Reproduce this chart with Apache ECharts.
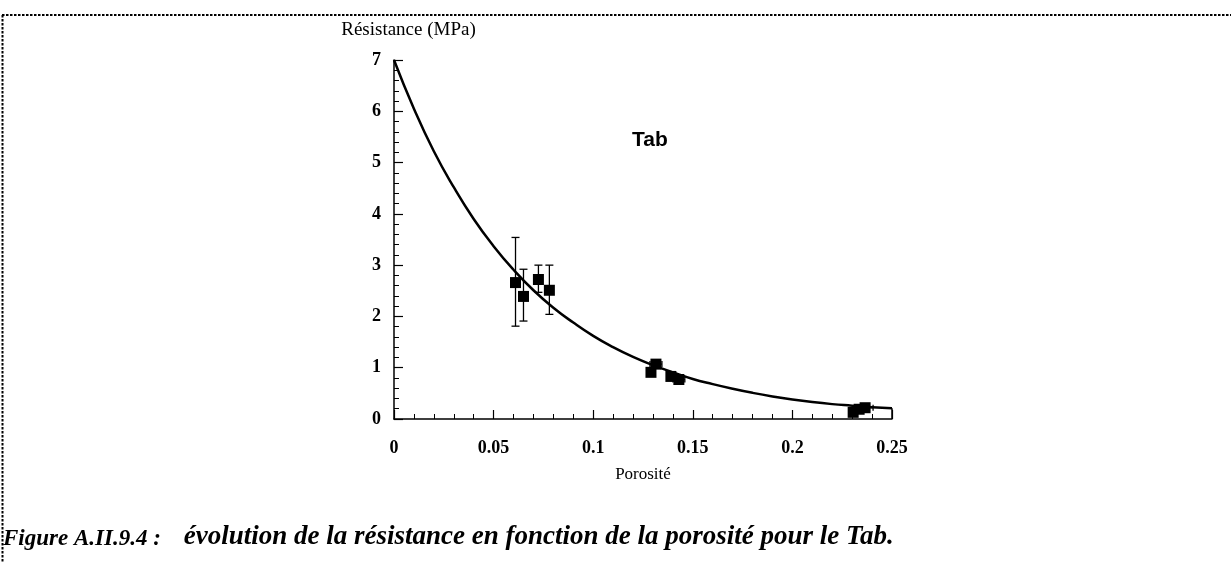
<!DOCTYPE html>
<html>
<head>
<meta charset="utf-8">
<script src="https://cdn.jsdelivr.net/npm/echarts@6/dist/echarts.min.js"></script>
<style>
  html, body { margin: 0; padding: 0; background: #ffffff; }
  #chart { width: 1231px; height: 563px; }
</style>
</head>
<body>
<div id="chart"></div>
<script>
// Measured specimens: porosity vs. strength (MPa)
const porosity = [0.061, 0.065, 0.0725, 0.078, 0.129, 0.1315, 0.139, 0.143, 0.2305, 0.2335, 0.2365];
const strength = [2.66, 2.39, 2.72, 2.51, 0.91, 1.07, 0.83, 0.77, 0.13, 0.19, 0.22];
// Vertical error range of each specimen (low / high)
const strengthLow = [1.81, 1.91, 2.47, 2.04, 0.91, 1.07, 0.83, 0.77, 0.13, 0.19, 0.22];
const strengthHigh = [3.54, 2.92, 3.00, 3.00, 0.91, 1.07, 0.83, 0.77, 0.13, 0.19, 0.22];
// Horizontal half-width of the porosity error
const porosityErr = [0, 0.002, 0, 0, 0, 0.003, 0, 0.003, 0.002, 0.003, 0.004];

// Fitted trend curve
const curveX = [0, 0.01, 0.02, 0.03, 0.04, 0.05, 0.06, 0.07, 0.08, 0.09, 0.10, 0.11, 0.12, 0.13,
                0.14, 0.15, 0.16, 0.17, 0.18, 0.19, 0.20, 0.21, 0.22, 0.23, 0.24, 0.25];
const curveY = [7.00, 6.05, 5.22, 4.52, 3.90, 3.37, 2.91, 2.51, 2.17, 1.88, 1.62, 1.40, 1.21, 1.05,
                0.91, 0.78, 0.68, 0.59, 0.51, 0.44, 0.38, 0.33, 0.29, 0.26, 0.23, 0.21];

// Axis settings
const xMin = 0, xMax = 0.25, xStep = 0.05;
const yMin = 0, yMax = 7, yStep = 1;

// Texts
const captionHead = 'Figure A.II.9.4 :';
const captionBody = 'évolution de la résistance en fonction de la porosité pour le Tab.';

const chart = echarts.init(document.getElementById('chart'), null, { renderer: 'canvas' });

const serif = '"Liberation Serif", "DejaVu Serif", serif';
const sans = '"Liberation Sans", Arial, sans-serif';

const pointData = porosity.map((x, i) => [x, strength[i]]);
const errData = porosity.map((x, i) => [x, strength[i], strengthLow[i], strengthHigh[i], porosityErr[i]]);
const curveData = curveX.map((x, i) => [x, curveY[i]]);

function renderError(params, api) {
  const x = api.value(0), y = api.value(1);
  const lo = api.value(2), hi = api.value(3), dx = api.value(4);
  const children = [];
  const style = { stroke: '#000', lineWidth: 1.3 };
  if (hi > lo) {
    const pLo = api.coord([x, lo]);
    const pHi = api.coord([x, hi]);
    const cap = 4;
    children.push({ type: 'line', shape: { x1: pLo[0], y1: pLo[1], x2: pHi[0], y2: pHi[1] }, style });
    children.push({ type: 'line', shape: { x1: pLo[0] - cap, y1: pLo[1], x2: pLo[0] + cap, y2: pLo[1] }, style });
    children.push({ type: 'line', shape: { x1: pHi[0] - cap, y1: pHi[1], x2: pHi[0] + cap, y2: pHi[1] }, style });
  }
  if (dx > 0) {
    const pL = api.coord([x - dx, y]);
    const pR = api.coord([x + dx, y]);
    const cap = 3;
    children.push({ type: 'line', shape: { x1: pL[0], y1: pL[1], x2: pR[0], y2: pR[1] }, style });
    children.push({ type: 'line', shape: { x1: pL[0], y1: pL[1] - cap, x2: pL[0], y2: pL[1] + cap }, style });
    children.push({ type: 'line', shape: { x1: pR[0], y1: pR[1] - cap, x2: pR[0], y2: pR[1] + cap }, style });
  }
  return { type: 'group', children };
}

const option = {
  backgroundColor: '#ffffff',
  animation: false,
  grid: { left: 394, top: 60, width: 498, height: 359, containLabel: false },
  xAxis: {
    type: 'value',
    min: xMin, max: xMax, interval: xStep,
    name: 'Porosité',
    nameLocation: 'middle',
    nameGap: 47,
    nameTextStyle: { fontFamily: serif, fontSize: 17, color: '#000' },
    axisLine: { show: true, onZero: false, lineStyle: { color: '#000', width: 1.5 } },
    axisTick: { show: true, inside: true, length: 9, lineStyle: { color: '#000', width: 1.2 } },
    minorTick: { show: true, splitNumber: 5, length: 5, lineStyle: { color: '#000', width: 1 } },
    splitLine: { show: false },
    axisLabel: { margin: 20, fontFamily: serif, fontSize: 18, fontWeight: 'bold', color: '#000' }
  },
  yAxis: {
    type: 'value',
    min: yMin, max: yMax, interval: yStep,
    name: 'Résistance (MPa)',
    nameLocation: 'end',
    nameGap: 20,
    nameTextStyle: { fontFamily: serif, fontSize: 19, color: '#000', align: 'center', padding: [0, 0, 0, 29] },
    axisLine: { show: true, onZero: false, lineStyle: { color: '#000', width: 1.5 } },
    axisTick: { show: true, inside: true, length: 9, lineStyle: { color: '#000', width: 1.2 } },
    minorTick: { show: true, splitNumber: 5, length: 5, lineStyle: { color: '#000', width: 1 } },
    splitLine: { show: false },
    axisLabel: { margin: 13, fontFamily: serif, fontSize: 18, fontWeight: 'bold', color: '#000' }
  },
  graphic: [
    // dotted frame around the figure
    { type: 'line', shape: { x1: 2, y1: 15, x2: 1231, y2: 15 }, style: { stroke: '#000', lineWidth: 2, lineDash: [2.5, 1.5] } },
    { type: 'line', shape: { x1: 2.5, y1: 15, x2: 2.5, y2: 563 }, style: { stroke: '#000', lineWidth: 2, lineDash: [2.5, 1.5] } },
    // series label inside the plot
    {
      type: 'text', left: 632, top: 130,
      style: { text: 'Tab', fontFamily: sans, fontSize: 21, fontWeight: 'bold', fill: '#000' }
    },
    // figure caption
    {
      type: 'text', left: 3, top: 524,
      style: {
        text: '{a|' + captionHead + '}{a|    }{b|' + captionBody + '}',
        rich: {
          a: { fontFamily: serif, fontSize: 23, fontWeight: 'bold', fontStyle: 'italic', fill: '#000', verticalAlign: 'bottom' },
          b: { fontFamily: serif, fontSize: 27, fontWeight: 'bold', fontStyle: 'italic', fill: '#000', verticalAlign: 'bottom' }
        }
      }
    }
  ],
  series: [
    {
      name: 'curve',
      type: 'line',
      data: curveData,
      smooth: true,
      showSymbol: false,
      lineStyle: { color: '#000', width: 2.5 },
      z: 2,
      markLine: {
        silent: true, symbol: 'none', label: { show: false },
        lineStyle: { color: '#000', width: 1.5, type: 'solid' },
        data: [[{ coord: [xMax, yMin] }, { coord: [xMax, curveY[curveY.length - 1]] }]]
      }
    },
    {
      name: 'errors',
      type: 'custom',
      renderItem: renderError,
      data: errData,
      encode: { x: 0, y: 1 },
      z: 3
    },
    {
      name: 'points',
      type: 'scatter',
      data: pointData,
      symbol: 'rect',
      symbolSize: 11,
      itemStyle: { color: '#000', opacity: 1 },
      z: 4
    }
  ]
};

chart.setOption(option);
</script>
</body>
</html>
